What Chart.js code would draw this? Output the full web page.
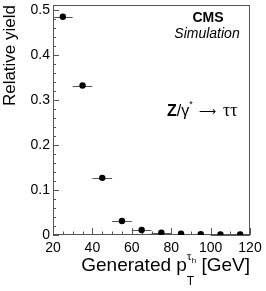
<!DOCTYPE html>
<html>
<head>
<meta charset="utf-8">
<script src="https://cdn.jsdelivr.net/npm/chart.js@4"></script>
<style>
  html, body { margin: 0; padding: 0; background: #fff; }
  #wrap { width: 266px; height: 291px; }
</style>
</head>
<body>
<div id="wrap"><canvas id="myChart" width="266" height="291"></canvas></div>
<script>
// values
const binCenters = [25, 35, 45, 55, 65, 75, 85, 95, 105, 115];
const binHalfWidths = [5, 5, 5, 5, 5, 5, 5, 5, 5, 5];
const relYield = [0.485, 0.332, 0.127, 0.031, 0.011, 0.005, 0.003, 0.002, 0.001, 0.001];

const xTicks = [20, 40, 60, 80, 100, 120];
const xTickLabels = ['20', '40', '60', '80', '100', '120'];
const yTicks = [0, 0.1, 0.2, 0.3, 0.4, 0.5];
const yTickLabels = ['0', '0.1', '0.2', '0.3', '0.4', '0.5'];

const SANS = '"Liberation Sans", Arial, sans-serif';
const SERIF = '"Liberation Serif", "Times New Roman", serif';
const axisColor = '#555';

const points = binCenters.map((x, i) => ({ x: x, y: relYield[i] }));

function drawText(ctx, str, x, y, font, align) {
    ctx.font = font;
    ctx.textAlign = align || 'left';
    ctx.fillText(str, x, y);
    return ctx.measureText(str).width;
}

const rootStyle = {
    id: 'rootStyle',
    beforeDatasetsDraw(chart) {
        const ctx = chart.ctx;
        const a = chart.chartArea;
        const xs = chart.scales.x;
        const ys = chart.scales.y;
        ctx.save();

        // frame
        ctx.strokeStyle = axisColor;
        ctx.lineWidth = 1;
        ctx.strokeRect(a.left + 0.5, a.top + 0.5, a.right - a.left - 1, a.bottom - a.top - 1);

        // ticks drawn inside the frame
        ctx.beginPath();
        for (let v = xs.min; v <= xs.max + 1e-9; v += 5) {
            const px = Math.round(xs.getPixelForValue(v)) + 0.5;
            const len = (v % 20 === 0) ? 7 : 3.5;
            ctx.moveTo(px, a.bottom);
            ctx.lineTo(px, a.bottom - len);
        }
        for (let k = 0; k * 0.02 <= ys.max + 1e-9; k++) {
            const v = k * 0.02;
            const py = Math.round(ys.getPixelForValue(v)) + 0.5;
            const len = (k % 5 === 0) ? 6 : 3;
            ctx.moveTo(a.left, py);
            ctx.lineTo(a.left + len, py);
        }
        ctx.stroke();

        // horizontal error bars
        ctx.strokeStyle = '#555';
        ctx.beginPath();
        points.forEach((p, i) => {
            const py = Math.round(ys.getPixelForValue(p.y)) + 0.5;
            ctx.moveTo(xs.getPixelForValue(p.x - binHalfWidths[i]), py);
            ctx.lineTo(xs.getPixelForValue(p.x + binHalfWidths[i]), py);
        });
        ctx.stroke();
        ctx.restore();
    },
    afterDraw(chart) {
        const ctx = chart.ctx;
        const a = chart.chartArea;
        ctx.save();
        ctx.fillStyle = '#000';
        ctx.textBaseline = 'alphabetic';

        // y title, top aligned
        ctx.save();
        ctx.translate(15, a.top);
        ctx.rotate(-Math.PI / 2);
        drawText(ctx, 'Relative yield', 0, 0, '17px ' + SANS, 'right');
        ctx.restore();

        // x title, right aligned: Generated p_T^{tau_h} [GeV]
        const base = 271;
        ctx.font = '19px ' + SANS;
        const w1 = ctx.measureText('Generated p').width;
        ctx.font = '12px ' + SANS;
        const wT = ctx.measureText('T').width;
        ctx.font = '12px ' + SERIF;
        const wTau = ctx.measureText('τ').width;
        ctx.font = '8px ' + SANS;
        const wh = ctx.measureText('h').width;
        const wSup = Math.max(wT, wTau + wh);
        ctx.font = '19px ' + SANS;
        const w2 = ctx.measureText(' [GeV]').width;
        let x0 = a.right - (w1 + wSup + w2);
        drawText(ctx, 'Generated p', x0, base, '19px ' + SANS);
        x0 += w1;
        drawText(ctx, 'T', x0, base + 14, '12px ' + SANS);
        drawText(ctx, 'τ', x0, base - 11, '12px ' + SERIF);
        drawText(ctx, 'h', x0 + wTau, base - 8, '8px ' + SANS);
        x0 += wSup;
        drawText(ctx, ' [GeV]', x0, base, '19px ' + SANS);

        // CMS label
        drawText(ctx, 'CMS', 208, 22, 'bold 14px ' + SANS, 'center');
        drawText(ctx, 'Simulation', 207, 38, 'italic 14px ' + SANS, 'center');

        // process label Z/gamma* -> tautau
        let px = 167;
        const py = 116;
        px += drawText(ctx, 'Z', px, py, 'bold 16px ' + SANS);
        px += drawText(ctx, '/γ', px, py, '16px ' + SANS);
        px += drawText(ctx, '*', px, py - 9, '9px ' + SANS);
        px += 6;
        px += drawText(ctx, '⟶', px, py - 1, '12px "DejaVu Sans", sans-serif');
        px += 7;
        drawText(ctx, 'ττ', px, py, '18px ' + SERIF);

        ctx.restore();
    }
};

const data = {
    datasets: [{
        label: 'Z/γ* → ττ',
        data: points,
        backgroundColor: '#000',
        borderColor: '#000',
        pointRadius: 3.2,
        pointHoverRadius: 3.2,
        pointBorderWidth: 0,
        showLine: false
    }]
};

const config = {
    type: 'scatter',
    data: data,
    options: {
        responsive: false,
        animation: false,
        events: [],
        layout: { padding: { top: 5, right: 16, left: 0, bottom: 0 } },
        plugins: {
            legend: { display: false },
            tooltip: { enabled: false }
        },
        scales: {
            x: {
                type: 'linear',
                min: 20,
                max: 120,
                afterBuildTicks: (scale) => { scale.ticks = xTicks.map(v => ({ value: v })); },
                afterFit: (scale) => { scale.height = 56; scale.paddingLeft = 0; scale.paddingRight = 0; },
                grid: { display: false, drawTicks: false },
                border: { display: false },
                ticks: {
                    padding: 5,
                    color: '#000',
                    maxRotation: 0,
                    font: { family: SANS, size: 14 },
                    callback: (v) => xTickLabels[xTicks.indexOf(v)]
                }
            },
            y: {
                type: 'linear',
                min: 0,
                max: 0.511,
                afterBuildTicks: (scale) => { scale.ticks = yTicks.map(v => ({ value: v })); },
                afterFit: (scale) => { scale.width = 53; scale.paddingTop = 0; scale.paddingBottom = 0; },
                grid: { display: false, drawTicks: false },
                border: { display: false },
                ticks: {
                    padding: 3,
                    color: '#000',
                    font: { family: SANS, size: 14 },
                    callback: (v) => yTickLabels[yTicks.indexOf(v)]
                }
            }
        }
    },
    plugins: [rootStyle]
};

const myChart = new Chart(
    document.getElementById('myChart'),
    config
);
</script>
</body>
</html>
